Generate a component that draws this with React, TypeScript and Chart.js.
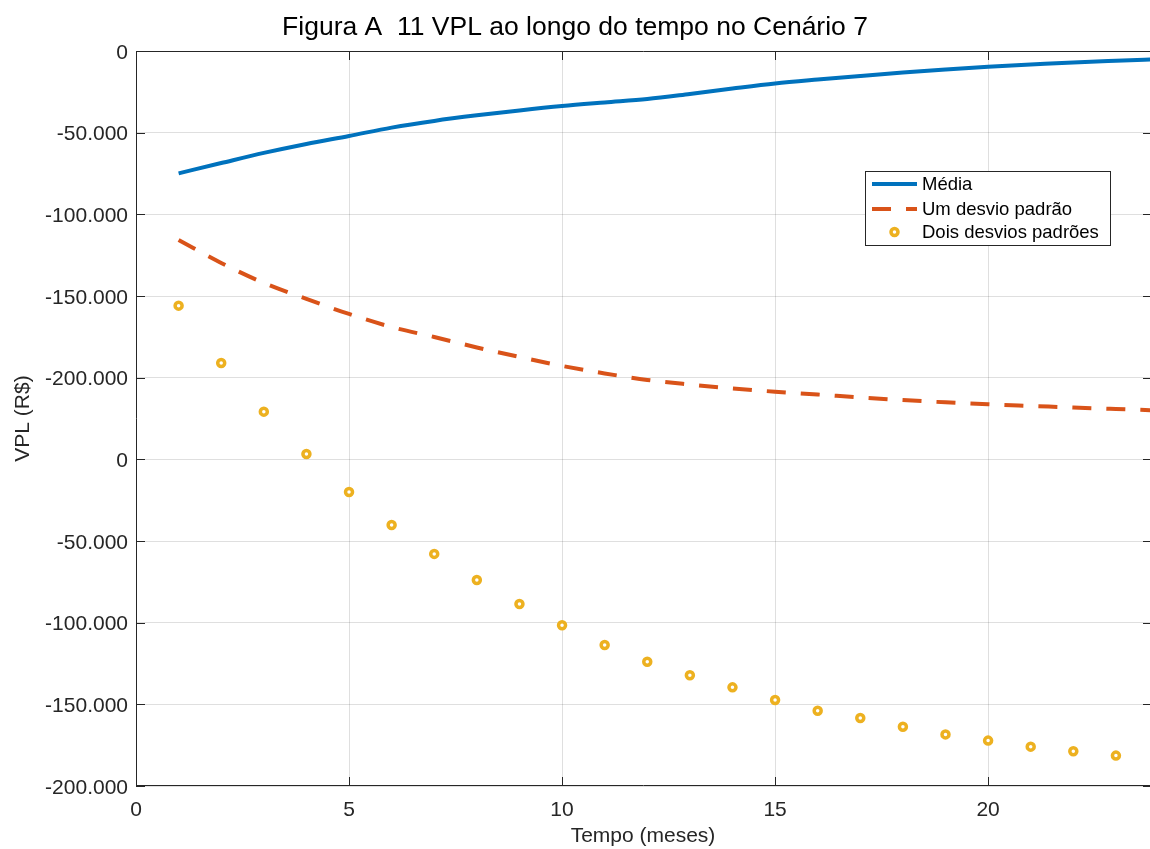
import React, { useEffect, useRef } from "react";
import { Chart, registerables } from "chart.js";

Chart.register(...registerables);

// ---------- data ----------
const months = [1, 2, 3, 4, 5, 6, 7, 8, 9, 10, 11, 12, 13, 14, 15, 16, 17, 18, 19, 20, 21, 22, 23, 24];
const mediaValues = [
  -74900, -68600, -62400, -56900, -52000, -46900, -42800, -39400, -36400, -33700,
  -31500, -29400, -26300, -23000, -19900, -17500, -15300, -13200, -11300, -9600,
  -8300, -7000, -6000, -5100,
];
const umDesvioValues = [
  -115700, -129800, -142000, -151800, -161000, -169000, -175100, -181500, -187300, -192800,
  -197400, -201400, -204200, -206600, -208600, -210300, -212100, -213700, -215100, -216300,
  -217300, -218300, -219200, -220100,
];
const doisMonths = [1, 2, 3, 4, 5, 6, 7, 8, 9, 10, 11, 12, 13, 14, 15, 16, 17, 18, 19, 20, 21, 22, 23];
const doisDesviosValues = [
  -155900, -191000, -220800, -246700, -270000, -290200, -307900, -323900, -338600, -351600,
  -363700, -373900, -382200, -389600, -397300, -403900, -408400, -413700, -418400, -422200,
  -425900, -428700, -431400,
];
const seriesNames = ["Média", "Um desvio padrão", "Dois desvios padrões"];
const xTickValues = [0, 5, 10, 15, 20];
const yTickValues = [0, -50000, -100000, -150000, -200000, -250000, -300000, -350000, -400000, -450000];
const yTickLabels = ["0", "-50.000", "-100.000", "-150.000", "-200.000", "0", "-50.000", "-100.000", "-150.000", "-200.000"];
const titleText = "Figura A  11 VPL ao longo do tempo no Cenário 7";
const xTitle = "Tempo (meses)";
const yTitle = "VPL (R$)";

const FONT = "'Liberation Sans', Arial, Helvetica, sans-serif";
const AXIS_COLOR = "#262626";
const GRID_COLOR = "rgba(38,38,38,0.15)";
const BLUE = "#0072BD";
const ORANGE = "#D95319";
const YELLOW = "#EDB120";
const DASH = [19, 15];

const boxTicksPlugin = {
  id: "boxTicks",
  afterDatasetsDraw(chart: any) {
    const { ctx, chartArea, scales } = chart;
    const { left, right, top, bottom } = chartArea;
    ctx.save();
    ctx.strokeStyle = AXIS_COLOR;
    ctx.lineWidth = 1;
    ctx.beginPath();
    ctx.moveTo(left, top + 0.5);
    ctx.lineTo(right + 1, top + 0.5);
    ctx.moveTo(left + 0.5, top);
    ctx.lineTo(left + 0.5, bottom);
    ctx.moveTo(left, bottom - 0.5);
    ctx.lineTo(right + 1, bottom - 0.5);
    ctx.moveTo(right + 0.5, top);
    ctx.lineTo(right + 0.5, bottom);
    const tl = 9;
    xTickValues.forEach((v) => {
      const px = Math.round(scales.x.getPixelForValue(v)) + 0.5;
      ctx.moveTo(px, bottom);
      ctx.lineTo(px, bottom - tl);
      ctx.moveTo(px, top);
      ctx.lineTo(px, top + tl);
    });
    yTickValues.forEach((v) => {
      const py = Math.round(scales.y.getPixelForValue(v)) + 0.5;
      ctx.moveTo(left, py);
      ctx.lineTo(left + tl, py);
      ctx.moveTo(right, py);
      ctx.lineTo(right - tl + 2, py);
    });
    ctx.stroke();
    ctx.restore();
  },
};

const legendPlugin = {
  id: "insideLegend",
  afterDraw(chart: any) {
    const { ctx } = chart;
    const bx = 865.5, by = 171.5, bw = 245, bh = 74;
    ctx.save();
    ctx.fillStyle = "#ffffff";
    ctx.fillRect(bx, by, bw, bh);
    ctx.strokeStyle = AXIS_COLOR;
    ctx.lineWidth = 1;
    ctx.strokeRect(bx, by, bw, bh);
    const rows = [184, 209, 232];
    const x0 = 872, x1 = 917;
    chart.data.datasets.forEach((ds: any, i: number) => {
      const y = rows[i];
      ctx.save();
      if (i < 2) {
        ctx.strokeStyle = ds.borderColor;
        ctx.lineWidth = ds.borderWidth;
        ctx.setLineDash(ds.borderDash || []);
        ctx.beginPath();
        ctx.moveTo(x0, y);
        ctx.lineTo(x1, y);
        ctx.stroke();
      } else {
        ctx.strokeStyle = ds.pointBorderColor;
        ctx.fillStyle = "#ffffff";
        ctx.lineWidth = ds.pointBorderWidth;
        ctx.beginPath();
        ctx.arc((x0 + x1) / 2, y, ds.pointRadius, 0, Math.PI * 2);
        ctx.fill();
        ctx.stroke();
      }
      ctx.restore();
      ctx.fillStyle = "#000000";
      ctx.font = `18.5px ${FONT}`;
      ctx.textAlign = "left";
      ctx.textBaseline = "middle";
      ctx.fillText(ds.label, 922, y + 1);
    });
    ctx.restore();
  },
};

export default function App() {
  const canvasRef = useRef<HTMLCanvasElement | null>(null);

  useEffect(() => {
    if (!canvasRef.current) return;
    const chart = new Chart(canvasRef.current, {
      type: "line",
      data: {
        datasets: [
          {
            label: seriesNames[0],
            data: months.map((m, i) => ({ x: m, y: mediaValues[i] })),
            borderColor: BLUE,
            borderWidth: 4,
            pointRadius: 0,
            fill: false,
            cubicInterpolationMode: "monotone",
          },
          {
            label: seriesNames[1],
            data: months.map((m, i) => ({ x: m, y: umDesvioValues[i] })),
            borderColor: ORANGE,
            borderWidth: 4,
            borderDash: DASH,
            pointRadius: 0,
            fill: false,
            cubicInterpolationMode: "monotone",
          },
          {
            label: seriesNames[2],
            data: doisMonths.map((m, i) => ({ x: m, y: doisDesviosValues[i] })),
            showLine: false,
            borderColor: YELLOW,
            pointBorderColor: YELLOW,
            pointBackgroundColor: "#ffffff",
            pointBorderWidth: 3.5,
            pointRadius: 3.5,
            pointStyle: "circle",
          },
        ],
      },
      options: {
        animation: false,
        responsive: false,
        maintainAspectRatio: false,
        layout: { padding: 0, autoPadding: false },
        plugins: {
          legend: { display: false },
          tooltip: { enabled: false },
          title: {
            display: true,
            text: titleText,
            color: "#000000",
            font: { family: FONT, size: 26.5, weight: "normal" },
            padding: { top: 12, bottom: 7.2 },
          },
        },
        scales: {
          x: {
            type: "linear",
            min: 0,
            max: 23.8,
            afterFit(scale: any) {
              scale.height = 63;
              scale.paddingLeft = 0;
              scale.paddingRight = 0;
            },
            afterBuildTicks(scale: any) {
              scale.ticks = xTickValues.map((v) => ({ value: v }));
            },
            grid: { color: GRID_COLOR, drawTicks: false, lineWidth: 1 },
            border: { display: false },
            ticks: {
              color: AXIS_COLOR,
              padding: 12,
              maxRotation: 0,
              font: { family: FONT, size: 21 },
              callback: (v: any) => String(v),
            },
            title: {
              display: true,
              text: xTitle,
              color: AXIS_COLOR,
              font: { family: FONT, size: 21 },
              padding: { top: 0, bottom: 0 },
            },
          },
          y: {
            type: "linear",
            min: -450000,
            max: 0,
            afterFit(scale: any) {
              scale.width = 136;
              scale.paddingTop = 0;
              scale.paddingBottom = 0;
            },
            afterBuildTicks(scale: any) {
              scale.ticks = [...yTickValues].reverse().map((v) => ({ value: v }));
            },
            grid: { color: GRID_COLOR, drawTicks: false, lineWidth: 1 },
            border: { display: false },
            ticks: {
              color: AXIS_COLOR,
              padding: 8,
              labelOffset: 2,
              font: { family: FONT, size: 21 },
              callback: (v: any) => {
                const idx = yTickValues.indexOf(Number(v));
                return idx >= 0 ? yTickLabels[idx] : "";
              },
            },
            title: {
              display: true,
              text: yTitle,
              color: AXIS_COLOR,
              font: { family: FONT, size: 21 },
              padding: { top: 11, bottom: 0 },
            },
          },
        },
      },
      plugins: [boxTicksPlugin, legendPlugin],
    });
    return () => chart.destroy();
  }, []);

  return (
    <div style={{ position: "absolute", left: 0, top: 0, width: 1150, height: 849, background: "#ffffff", overflow: "hidden" }}>
      <canvas ref={canvasRef} width={1150} height={849} style={{ display: "block", width: 1150, height: 849 }} />
    </div>
  );
}
